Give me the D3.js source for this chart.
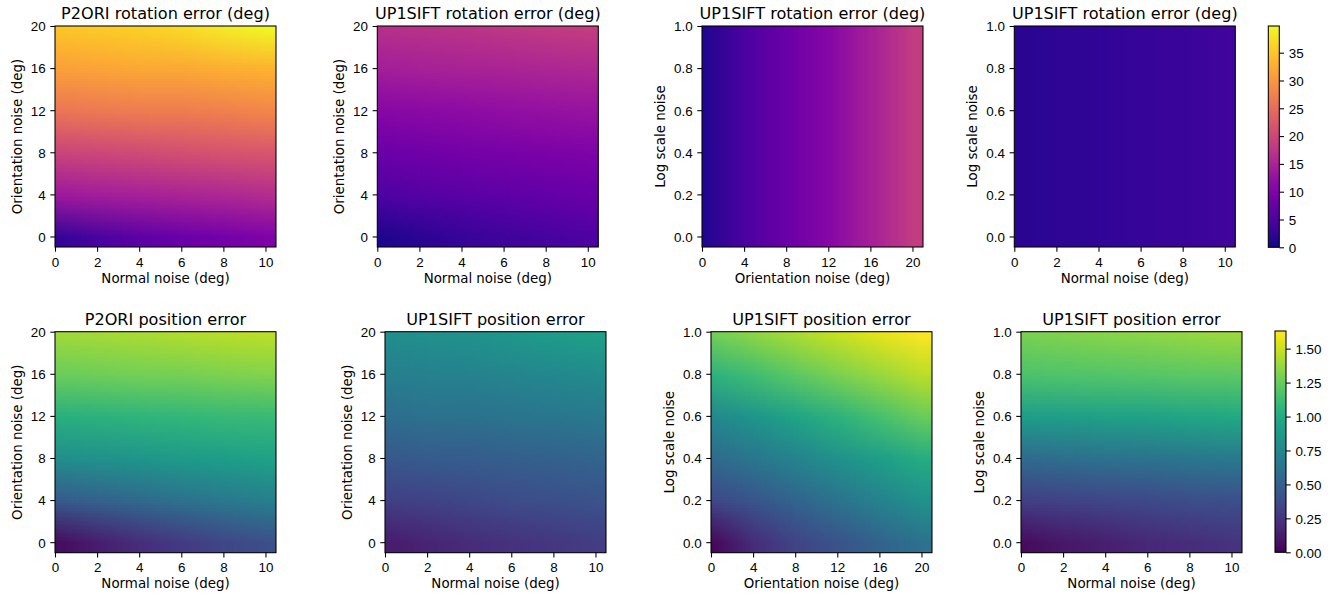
<!DOCTYPE html>
<html>
<head>
<meta charset="utf-8">
<script src="https://cdn.jsdelivr.net/npm/d3@7"></script>
<style>
  body { margin: 0; background: #fff; }
  svg { display: block; font-family: "DejaVu Sans", sans-serif; }
</style>
</head>
<body>
<svg id="chart" width="1341" height="598"></svg>
<script>
// sample positions (deg / log scale)
var normalNoise = [0, 2, 4, 6, 8, 10];
var orientNoise = [0, 4, 8, 12, 16, 20];
var orientNoiseX = [0, 4, 8, 12, 16, 20];
var logScaleNoise = [0, 0.2, 0.4, 0.6, 0.8, 1.0];
var logScaleEnds = [0, 1.0];

// tick labels
var normalTicks = [0, 2, 4, 6, 8, 10];
var orientTicks = [0, 4, 8, 12, 16, 20];
var scaleTicks = [0, 0.2, 0.4, 0.6, 0.8, 1.0];
var rotBarTicks = [0, 5, 10, 15, 20, 25, 30, 35];
var posBarTicks = [0, 0.25, 0.5, 0.75, 1.0, 1.25, 1.5];

// rotation error (deg), rows go from bottom (first y) to top
var rotP2oriNormal = [
    [2.5, 4.8, 6.6, 8, 9, 10],
    [13.5, 14, 14.5, 15, 15.5, 16.3],
    [19.5, 20, 20.5, 21, 21.5, 22],
    [26, 26.5, 27, 27, 27.5, 28],
    [31, 31.5, 32, 32, 32.5, 33],
    [35, 35.5, 36, 37, 38.5, 39.8]
];
var rotUp1siftNormal = [
    [1, 2, 3, 3.8, 4.5, 5.2],
    [5.2, 5.8, 6.3, 6.8, 7.3, 7.8],
    [8, 8.5, 9, 9.3, 9.7, 10],
    [11, 11.3, 11.6, 12, 12.3, 12.6],
    [14.3, 14.5, 14.8, 15, 15.3, 15.6],
    [16.7, 17, 17.4, 17.8, 18.2, 18.7]
];
var rotUp1siftOrient = [
    [1.2, 5, 8, 11, 14.5, 18.5],
    [1.2, 5, 8, 11, 14.5, 18.5]
];
var rotUp1siftScale = [
    [1.8, 2.2, 2.6, 3.0, 3.4, 3.9],
    [1.8, 2.2, 2.6, 3.0, 3.4, 3.9]
];

// position error
var posP2oriNormal = [
    [0.05, 0.13, 0.21, 0.28, 0.34, 0.39],
    [0.45, 0.5, 0.55, 0.6, 0.65, 0.69],
    [0.8, 0.82, 0.85, 0.88, 0.9, 0.93],
    [1.03, 1.04, 1.06, 1.07, 1.09, 1.1],
    [1.26, 1.27, 1.28, 1.29, 1.31, 1.32],
    [1.4, 1.41, 1.42, 1.44, 1.46, 1.47]
];
var posUp1siftNormal = [
    [0.12, 0.16, 0.2, 0.23, 0.26, 0.29],
    [0.3, 0.32, 0.35, 0.37, 0.39, 0.41],
    [0.44, 0.46, 0.47, 0.49, 0.5, 0.52],
    [0.58, 0.6, 0.61, 0.63, 0.64, 0.66],
    [0.7, 0.71, 0.72, 0.74, 0.76, 0.78],
    [0.8, 0.82, 0.84, 0.87, 0.9, 0.93]
];
var posUp1siftOrient = [
    [0.03, 0.2, 0.33, 0.42, 0.51, 0.6],
    [0.35, 0.43, 0.52, 0.62, 0.72, 0.82],
    [0.56, 0.64, 0.73, 0.82, 0.91, 1.0],
    [0.76, 0.85, 0.95, 1.05, 1.15, 1.25],
    [1.05, 1.13, 1.22, 1.3, 1.38, 1.46],
    [1.28, 1.35, 1.43, 1.5, 1.57, 1.63]
];
var posUp1siftScale = [
    [0.05, 0.1, 0.14, 0.18, 0.21, 0.24],
    [0.3, 0.32, 0.34, 0.36, 0.38, 0.39],
    [0.56, 0.58, 0.6, 0.62, 0.64, 0.66],
    [0.9, 0.91, 0.93, 0.94, 0.96, 0.98],
    [1.17, 1.18, 1.19, 1.2, 1.21, 1.22],
    [1.3, 1.32, 1.34, 1.35, 1.37, 1.39]
];

var rotMax = 39.8, posMax = 1.63;

var FONT = 13.4, TITLE_FONT = 16.1, TICK = 4.7, PAD = 4.7;
var svg = d3.select("#chart");

var rotColor = d3.scaleSequential(d3.interpolatePlasma).domain([0, rotMax]);
var posColor = d3.scaleSequential(d3.interpolateViridis).domain([0, posMax]);

var normalAxis = {label: "Normal noise (deg)", domain: [0, 10.5], ticks: normalTicks, fmt: d3.format("d")};
var orientAxisY = {label: "Orientation noise (deg)", domain: [-1, 20], ticks: orientTicks, fmt: d3.format("d")};
var orientAxisX = {label: "Orientation noise (deg)", domain: [0, 21], ticks: orientTicks, fmt: d3.format("d")};
var scaleAxis = {label: "Log scale noise", domain: [-0.05, 1], ticks: scaleTicks, fmt: d3.format(".1f")};

var panels = [
    {title: "P2ORI rotation error (deg)", left: 55, top: 26, xa: normalAxis, ya: orientAxisY, xs: normalNoise, ys: orientNoise, grid: rotP2oriNormal, color: rotColor},
    {title: "UP1SIFT rotation error (deg)", left: 377.3, top: 26, xa: normalAxis, ya: orientAxisY, xs: normalNoise, ys: orientNoise, grid: rotUp1siftNormal, color: rotColor},
    {title: "UP1SIFT rotation error (deg)", left: 702, top: 26, xa: orientAxisX, ya: scaleAxis, xs: orientNoiseX, ys: logScaleEnds, grid: rotUp1siftOrient, color: rotColor},
    {title: "UP1SIFT rotation error (deg)", left: 1014.3, top: 26, xa: normalAxis, ya: scaleAxis, xs: normalNoise, ys: logScaleEnds, grid: rotUp1siftScale, color: rotColor},
    {title: "P2ORI position error", left: 55, top: 331.7, xa: normalAxis, ya: orientAxisY, xs: normalNoise, ys: orientNoise, grid: posP2oriNormal, color: posColor},
    {title: "UP1SIFT position error", left: 385, top: 331.7, xa: normalAxis, ya: orientAxisY, xs: normalNoise, ys: orientNoise, grid: posUp1siftNormal, color: posColor},
    {title: "UP1SIFT position error", left: 711, top: 331.7, xa: orientAxisX, ya: scaleAxis, xs: orientNoiseX, ys: logScaleNoise, grid: posUp1siftOrient, color: posColor},
    {title: "UP1SIFT position error", left: 1021, top: 331.7, xa: normalAxis, ya: scaleAxis, xs: normalNoise, ys: logScaleNoise, grid: posUp1siftScale, color: posColor}
];
var SIZE = 221;

function gridImage(grid, color) {
    var rows = grid.length, cols = grid[0].length;
    var canvas = document.createElement("canvas");
    canvas.width = cols;
    canvas.height = rows;
    var ctx = canvas.getContext("2d");
    var img = ctx.createImageData(cols, rows);
    for (var r = 0; r < rows; r++) {
        for (var c = 0; c < cols; c++) {
            var rgb = d3.rgb(color(grid[r][c]));
            var k = ((rows - 1 - r) * cols + c) * 4;
            img.data[k] = rgb.r;
            img.data[k + 1] = rgb.g;
            img.data[k + 2] = rgb.b;
            img.data[k + 3] = 255;
        }
    }
    ctx.putImageData(img, 0, 0);
    return canvas.toDataURL();
}

function styleAxis(g) {
    g.select(".domain").remove();
    g.selectAll(".tick line").attr("stroke", "#000").attr("stroke-width", 1.07);
    g.selectAll(".tick text").attr("fill", "#000").style("font-size", FONT + "px");
}

panels.forEach(function (p, i) {
    var x = d3.scaleLinear().domain(p.xa.domain).range([0, SIZE]);
    var y = d3.scaleLinear().domain(p.ya.domain).range([SIZE, 0]);
    var g = svg.append("g").attr("transform", "translate(" + p.left + "," + p.top + ")");

    var clipId = "clip" + i;
    g.append("clipPath").attr("id", clipId)
        .append("rect").attr("width", SIZE).attr("height", SIZE);

    // samples sit at pixel centres, the browser smooths between them
    var dx = p.xs[1] - p.xs[0], dy = p.ys[1] - p.ys[0];
    var x0 = x(p.xs[0] - dx / 2), x1 = x(p.xs[p.xs.length - 1] + dx / 2);
    var y0 = y(p.ys[p.ys.length - 1] + dy / 2), y1 = y(p.ys[0] - dy / 2);
    g.append("g").attr("clip-path", "url(#" + clipId + ")")
        .append("image")
        .attr("href", gridImage(p.grid, p.color))
        .attr("x", x0).attr("y", y0)
        .attr("width", x1 - x0).attr("height", y1 - y0)
        .attr("preserveAspectRatio", "none")
        .style("image-rendering", "auto");

    var gx = g.append("g").attr("transform", "translate(0," + SIZE + ")")
        .call(d3.axisBottom(x).tickValues(p.xa.ticks).tickFormat(p.xa.fmt).tickSizeOuter(0).tickSize(TICK).tickPadding(PAD));
    styleAxis(gx);
    gx.selectAll(".tick text").attr("dy", null).attr("y", TICK + PAD + 10.3);

    var gy = g.append("g")
        .call(d3.axisLeft(y).tickValues(p.ya.ticks).tickFormat(p.ya.fmt).tickSizeOuter(0).tickSize(TICK).tickPadding(PAD));
    styleAxis(gy);
    gy.selectAll(".tick text").attr("dy", "0.36em");

    g.append("rect").attr("width", SIZE).attr("height", SIZE)
        .attr("fill", "none").attr("stroke", "#000").attr("stroke-width", 1.07);

    var maxW = 0;
    gy.selectAll(".tick text").each(function () { maxW = Math.max(maxW, this.getBBox().width); });

    g.append("text")
        .attr("x", SIZE / 2).attr("y", SIZE + 35.5)
        .attr("text-anchor", "middle").style("font-size", FONT + "px")
        .text(p.xa.label);

    g.append("text")
        .attr("transform", "translate(" + (-(TICK + PAD + maxW + 5.4 + 3.2)) + "," + (SIZE / 2) + ") rotate(-90)")
        .attr("text-anchor", "middle").style("font-size", FONT + "px")
        .text(p.ya.label);

    g.append("text")
        .attr("x", SIZE / 2).attr("y", -7)
        .attr("text-anchor", "middle").style("font-size", TITLE_FONT + "px")
        .text(p.title);
});

// colour bars
var bars = [
    {left: 1268.3, top: 26, height: 221.3, color: rotColor, max: rotMax, ticks: rotBarTicks, fmt: d3.format("d"), interp: d3.interpolatePlasma},
    {left: 1275, top: 331, height: 221.3, color: posColor, max: posMax, ticks: posBarTicks, fmt: d3.format(".2f"), interp: d3.interpolateViridis}
];
var defs = svg.append("defs");
bars.forEach(function (b, i) {
    var id = "cbar" + i;
    var grad = defs.append("linearGradient").attr("id", id)
        .attr("x1", 0).attr("y1", 1).attr("x2", 0).attr("y2", 0);
    d3.range(0, 1.0001, 0.05).forEach(function (t) {
        grad.append("stop").attr("offset", t).attr("stop-color", b.interp(t));
    });
    var scale = d3.scaleLinear().domain([0, b.max]).range([b.height, 0]);
    var g = svg.append("g").attr("transform", "translate(" + b.left + "," + b.top + ")");
    g.append("rect").attr("width", 11).attr("height", b.height).attr("fill", "url(#" + id + ")");
    var ga = g.append("g").attr("transform", "translate(11,0)")
        .call(d3.axisRight(scale).tickValues(b.ticks).tickFormat(b.fmt).tickSizeOuter(0).tickSize(TICK).tickPadding(PAD));
    styleAxis(ga);
    ga.selectAll(".tick text").attr("dy", "0.36em");
    g.append("rect").attr("width", 11).attr("height", b.height)
        .attr("fill", "none").attr("stroke", "#000").attr("stroke-width", 1.07);
});
</script>
</body>
</html>
